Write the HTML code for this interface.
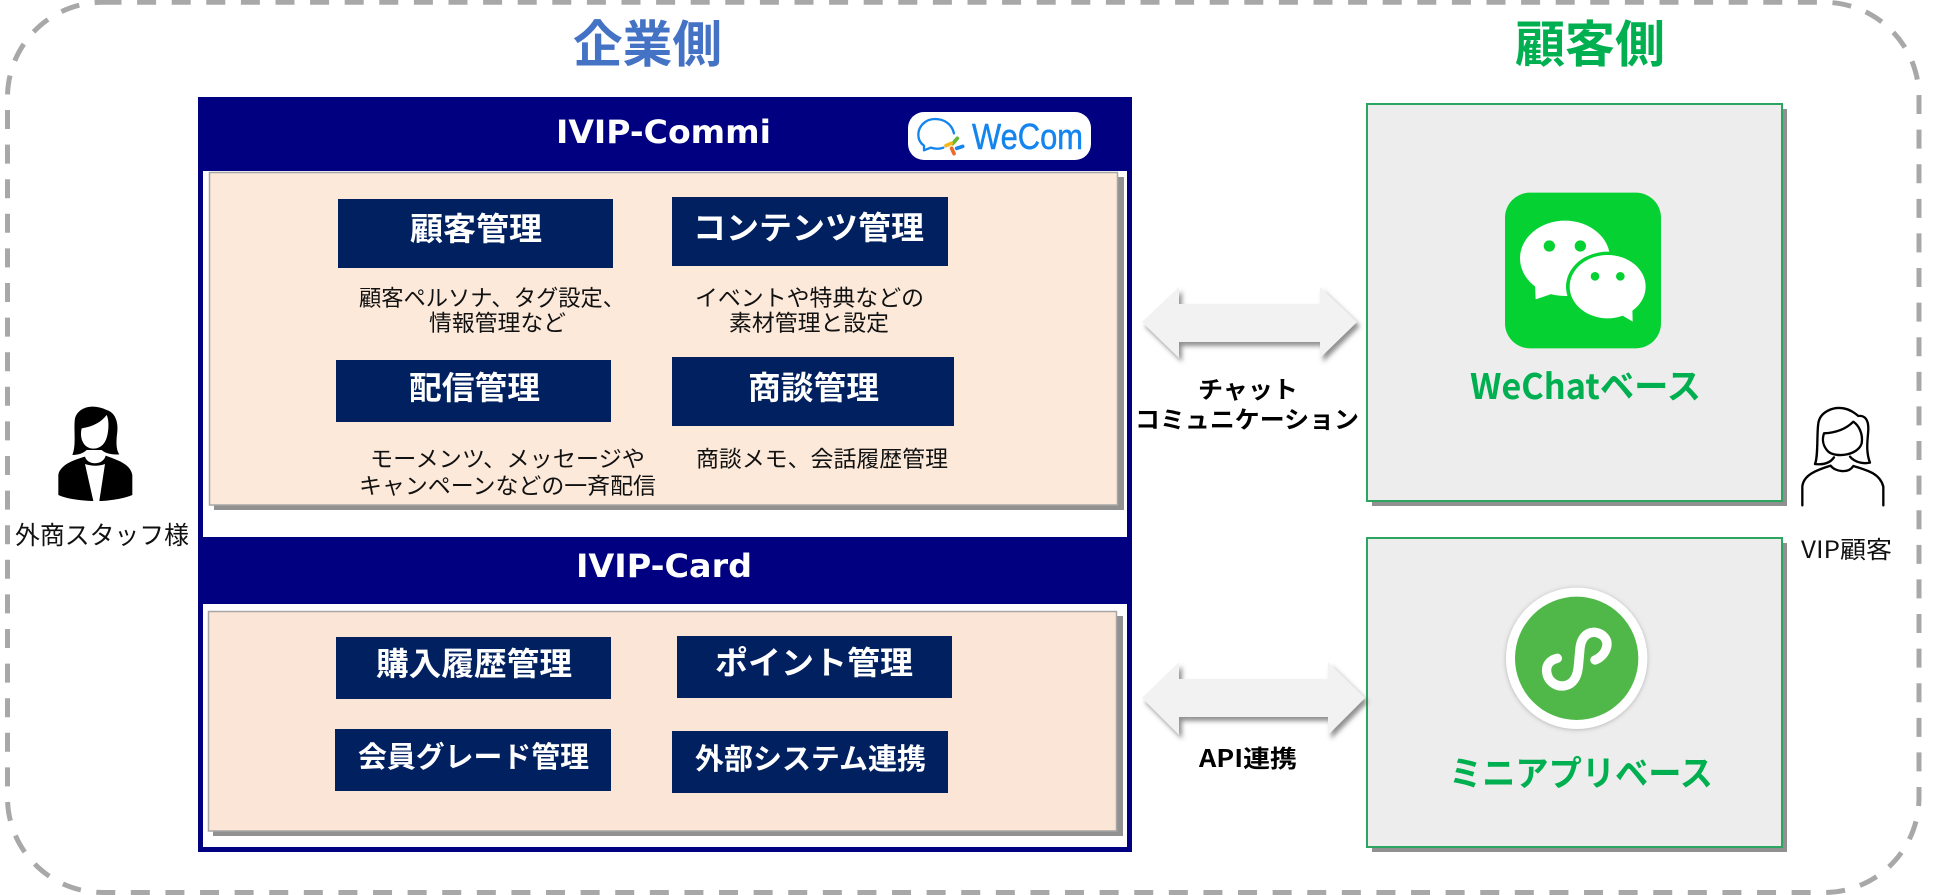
<!DOCTYPE html>
<html lang="ja"><head><meta charset="utf-8"><title>IVIP</title>
<style>
html,body{margin:0;padding:0;background:#fff;width:1950px;height:895px;overflow:hidden}
svg{display:block}
text{font-family:"Noto Sans CJK JP","Liberation Sans",sans-serif}
.b{font-weight:700;fill:#fff;font-size:32px}
.d{fill:#111;font-size:22.5px}
.l{font-family:"DejaVu Sans","Liberation Sans",sans-serif;font-weight:700;fill:#fff;font-size:32px}
.k{font-weight:700;fill:#000;font-size:24px}
.g{font-weight:700;fill:#00B050;font-size:35px}
</style></head><body>
<svg width="1950" height="895" viewBox="0 0 1950 895" xmlns="http://www.w3.org/2000/svg">
<defs>
<filter id="as" x="-10%" y="-20%" width="125%" height="150%"><feDropShadow dx="3" dy="4" stdDeviation="2.5" flood-color="#555" flood-opacity=".65"/></filter>
<filter id="cs" x="-20%" y="-20%" width="140%" height="140%"><feDropShadow dx="0" dy="2" stdDeviation="7" flood-color="#000" flood-opacity=".25"/></filter>
</defs>
<rect width="1950" height="895" fill="#fff"/>
<rect x="7.5" y="2.3" width="1911.5" height="890.2" rx="95" ry="95" fill="none" stroke="#A8A8A8" stroke-width="5" stroke-dasharray="19 15.6"/>

<text x="573" y="62" font-size="50" font-weight="700" fill="#4472C4" textLength="149" lengthAdjust="spacingAndGlyphs">企業側</text>
<text x="1515" y="62" font-size="50" font-weight="700" fill="#00B050" textLength="150" lengthAdjust="spacingAndGlyphs">顧客側</text>

<!-- navy panel -->
<rect x="198" y="97" width="934" height="755" fill="#000080"/>
<rect x="203" y="171" width="924" height="366" fill="#fff"/>
<rect x="203" y="604" width="924" height="243" fill="#fff"/>

<text class="l" x="556" y="143" textLength="215" lengthAdjust="spacingAndGlyphs">IVIP-Commi</text>
<text class="l" x="576" y="577" textLength="176" lengthAdjust="spacingAndGlyphs">IVIP-Card</text>

<!-- WeCom badge -->
<rect x="908" y="112" width="183" height="48" rx="16" fill="#fff"/>
<g transform="translate(900,105) scale(.3333)" fill="none" stroke-linecap="round">
<path d="M162 85C155 55 130 42 105 42C75 42 55 65 55 90C55 105 62 115 72 122L72 136L92 128C105 132 120 132 130 128" stroke="#1485EE" stroke-width="7" stroke-linejoin="round"/>
<path d="M172 100L158 116" stroke="#62B832" stroke-width="11"/>
<path d="M138 122L154 115" stroke="#F5B81C" stroke-width="11"/>
<path d="M188 124L170 130" stroke="#1485EE" stroke-width="11"/>
<path d="M162 146L155 130" stroke="#EE6A2A" stroke-width="11"/>
</g>
<text x="972" y="149" font-size="36" fill="#1485EE" stroke="#1485EE" stroke-width=".5" style="font-family:'Liberation Sans',sans-serif" textLength="111" lengthAdjust="spacingAndGlyphs">WeCom</text>

<!-- beige panels -->
<rect x="214" y="177" width="910" height="333" fill="#919191"/>
<rect x="209.5" y="172.5" width="908" height="332.5" fill="#FCE9DA" stroke="#A6A6A6" stroke-width="1.5"/>
<rect x="213" y="616" width="910" height="220" fill="#919191"/>
<rect x="208.5" y="611.5" width="908" height="219.5" fill="#FBE5D6" stroke="#A6A6A6" stroke-width="1.5"/>

<!-- buttons -->
<g fill="#002060">
<rect x="338" y="199" width="275" height="69"/>
<rect x="672" y="197" width="276" height="69"/>
<rect x="336" y="360" width="275" height="62"/>
<rect x="672" y="357" width="282" height="69"/>
<rect x="336" y="637" width="275" height="62"/>
<rect x="677" y="636" width="275" height="62"/>
<rect x="335" y="729" width="276" height="62"/>
<rect x="672" y="731" width="276" height="62"/>
</g>
<text class="b" x="410" y="240" textLength="132" lengthAdjust="spacingAndGlyphs">顧客管理</text>
<text class="b" x="693" y="239" textLength="231" lengthAdjust="spacingAndGlyphs">コンテンツ管理</text>
<text class="b" x="409" y="399" textLength="131" lengthAdjust="spacingAndGlyphs">配信管理</text>
<text class="b" x="748" y="399" textLength="131" lengthAdjust="spacingAndGlyphs">商談管理</text>
<text class="b" x="376" y="675" textLength="196" lengthAdjust="spacingAndGlyphs">購入履歴管理</text>
<text class="b" x="715" y="674" textLength="198" lengthAdjust="spacingAndGlyphs">ポイント管理</text>
<text class="b" x="358" y="767" textLength="231" lengthAdjust="spacingAndGlyphs" style="font-size:29px">会員グレード管理</text>
<text class="b" x="695" y="769" textLength="231" lengthAdjust="spacingAndGlyphs" style="font-size:29px">外部システム連携</text>

<!-- descriptions -->
<text class="d" x="359" y="306" textLength="266" lengthAdjust="spacingAndGlyphs">顧客ペルソナ、タグ設定、</text>
<text class="d" x="429" y="331" textLength="137" lengthAdjust="spacingAndGlyphs">情報管理など</text>
<text class="d" x="695" y="306" textLength="229" lengthAdjust="spacingAndGlyphs">イベントや特典などの</text>
<text class="d" x="729" y="331" textLength="160" lengthAdjust="spacingAndGlyphs">素材管理と設定</text>
<text class="d" x="370" y="467" textLength="275" lengthAdjust="spacingAndGlyphs">モーメンツ、メッセージや</text>
<text class="d" x="359" y="494" textLength="297" lengthAdjust="spacingAndGlyphs">キャンペーンなどの一斉配信</text>
<text class="d" x="696" y="467" textLength="252" lengthAdjust="spacingAndGlyphs">商談メモ、会話履歴管理</text>

<!-- left person -->
<g transform="translate(40,395) scale(.3333)">
<path d="M97 180C110 150 100 100 105 70C115 35 160 25 200 45C225 52 235 80 232 110C228 140 228 165 238 178C215 180 195 175 185 165H140C130 175 115 180 97 180Z" fill="#000"/>
<path d="M125 100C160 95 185 80 200 60C210 80 205 125 195 140C180 168 140 168 128 140C122 128 122 112 125 100Z" fill="#fff"/>
<path d="M55 300L55 240C60 210 100 195 135 185C142 212 190 212 197 182C230 195 270 205 277 240L277 300C250 312 200 318 178 318H155C120 316 80 312 55 300Z" fill="#000"/>
<path d="M135 207C155 214 178 214 195 207L178 318H160Z" fill="#fff"/>
</g>
<text x="15" y="544" font-size="25" fill="#111" textLength="174" lengthAdjust="spacingAndGlyphs">外商スタッフ様</text>

<!-- right person -->
<g transform="translate(1800,400) scale(.3333)" fill="none" stroke="#000" stroke-width="7" stroke-linecap="round" stroke-linejoin="round">
<path d="M45 192C55 170 50 100 55 70C60 35 100 20 130 25C150 28 165 40 175 48C195 45 205 60 205 85C205 110 195 150 210 188C190 192 165 188 150 170"/>
<path d="M72 100C110 98 140 85 160 65C175 75 190 100 185 130C175 165 110 175 85 155C70 140 65 120 72 100Z"/>
<path d="M45 192C70 195 90 190 102 172"/>
<path d="M7 316L7 260C10 225 50 210 92 197C105 215 145 222 160 198C200 210 240 220 250 260L250 316"/>
</g>
<text x="1801" y="558" font-size="24" fill="#111" textLength="91" lengthAdjust="spacingAndGlyphs">VIP顧客</text>

<!-- green boxes -->
<rect x="1372" y="109" width="415" height="397" fill="#909090"/>
<rect x="1367" y="104" width="415" height="397" fill="#EDEDED" stroke="#2BA560" stroke-width="2"/>
<rect x="1372" y="543" width="415" height="309" fill="#909090"/>
<rect x="1367" y="538" width="415" height="309" fill="#EDEDED" stroke="#2BA560" stroke-width="2"/>

<!-- WeChat icon -->
<g transform="translate(1500,190) scale(.3333)">
<rect x="15" y="8" width="468" height="467" rx="75" fill="#06D133"/>
<ellipse cx="195" cy="205" rx="135" ry="113" fill="#fff"/>
<path d="M105 280L107 328L160 310Z" fill="#fff"/>
<ellipse cx="323" cy="290" rx="125" ry="105" fill="#06D133"/>
<ellipse cx="323" cy="290" rx="114" ry="95" fill="#fff"/>
<path d="M360 372L398 395L397 350Z" fill="#fff"/>
<circle cx="148" cy="168" r="17" fill="#06D133"/>
<circle cx="241" cy="168" r="17" fill="#06D133"/>
<circle cx="285" cy="259" r="13" fill="#06D133"/>
<circle cx="361" cy="259" r="13" fill="#06D133"/>
</g>
<text class="g" x="1470" y="399" textLength="231" lengthAdjust="spacingAndGlyphs">WeChatベース</text>

<!-- Mini program icon -->
<g transform="translate(1500,580) scale(.3333)">
<circle cx="230" cy="235" r="212" fill="#fff" filter="url(#cs)"/>
<circle cx="230" cy="235" r="185" fill="#4FB848"/>
<path d="M172 235C150 240 138 255 140 275C143 305 170 322 195 317C220 312 232 290 235 260L240 205C243 175 260 155 285 157C310 160 325 180 320 200C316 220 300 235 285 240" fill="none" stroke="#fff" stroke-width="28" stroke-linecap="round"/>
</g>
<text class="g" x="1449" y="786" textLength="264" lengthAdjust="spacingAndGlyphs">ミニアプリベース</text>

<!-- arrows -->
<path d="M1142 322L1179 287V304H1320V287L1357 322L1320 358V342H1179V358Z" fill="#F2F2F2" filter="url(#as)"/>
<path d="M1142 698L1179 662V679H1328V662L1365 698L1328 735V717H1179V735Z" fill="#F2F2F2" filter="url(#as)"/>

<text class="k" x="1198" y="398" textLength="100" lengthAdjust="spacingAndGlyphs">チャット</text>
<text class="k" x="1135" y="428" textLength="224" lengthAdjust="spacingAndGlyphs">コミュニケーション</text>
<text class="k" x="1199" y="767" textLength="98" lengthAdjust="spacingAndGlyphs">API連携</text>
</svg>
</body></html>
